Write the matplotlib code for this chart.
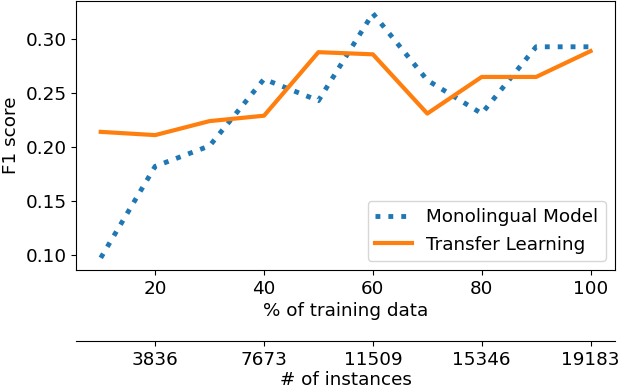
import matplotlib
matplotlib.use("Agg")
import matplotlib.pyplot as plt

# % of training data
pct = [10, 20, 30, 40, 50, 60, 70, 80, 90, 100]
mono = [0.097, 0.182, 0.201, 0.263, 0.243, 0.324, 0.262, 0.231, 0.293, 0.293]
transfer = [0.214, 0.211, 0.224, 0.229, 0.288, 0.286, 0.231, 0.265, 0.265, 0.289]

inst_pos = [20, 40, 60, 80, 100]
inst_labels = ["3836", "7673", "11509", "15346", "19183"]

plt.rcParams["font.size"] = 13.2

fig = plt.figure(figsize=(6.2, 3.92), dpi=100)
ax = fig.add_axes([0.123, 0.311, 0.869, 0.686])

ax.plot(pct, mono, linestyle=":", linewidth=3.5, color="#1f77b4", label="Monolingual Model")
ax.plot(pct, transfer, linestyle="-", linewidth=3, color="#ff7f0e", label="Transfer Learning")

ax.set_ylabel("F1 score")
ax.set_xlabel("% of training data", labelpad=3)
ax.set_xticks([20, 40, 60, 80, 100])
ax.set_yticks([0.10, 0.15, 0.20, 0.25, 0.30])
ax.legend(loc="lower right")

# second x axis below for number of instances
ax2 = ax.twiny()
ax2.set_xlim(ax.get_xlim())
ax2.xaxis.set_ticks_position("bottom")
ax2.xaxis.set_label_position("bottom")
ax2.spines["bottom"].set_position(("outward", 51))
for s in ["top", "left", "right"]:
    ax2.spines[s].set_visible(False)
ax2.set_xticks(inst_pos)
ax2.set_xticklabels(inst_labels)
ax2.set_xlabel("# of instances", labelpad=2)

fig.savefig("out.png", dpi=100)
